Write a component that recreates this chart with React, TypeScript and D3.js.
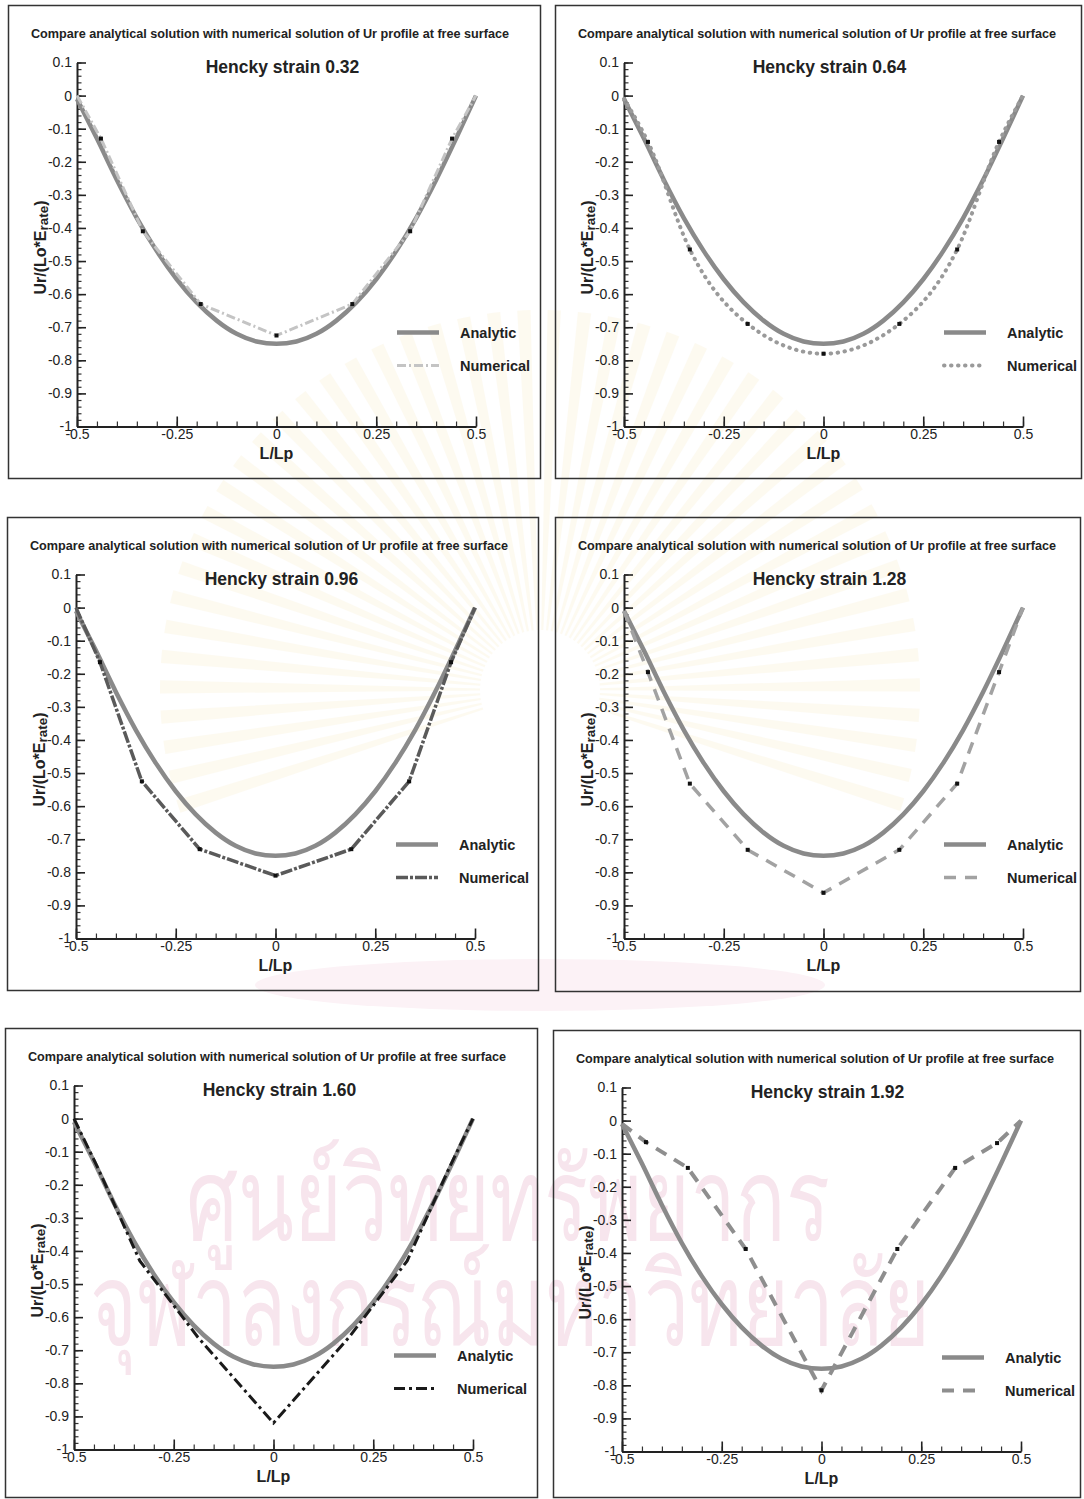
import React, { useEffect, useRef } from 'react';
import * as d3 from 'd3';

// x positions of the numerical nodes (shared by all six panels)
const numX = [-0.5, -0.44, -0.335, -0.19, 0, 0.19, 0.335, 0.44, 0.5];

// analytic profile (same curve in every panel)
const analyticX = [-0.5, -0.45, -0.4, -0.35, -0.3, -0.25, -0.2, -0.15, -0.1, -0.05, 0, 0.05, 0.1, 0.15, 0.2, 0.25, 0.3, 0.35, 0.4, 0.45, 0.5];
const analyticY = [-0.01, -0.13, -0.255, -0.37, -0.47, -0.555, -0.625, -0.68, -0.72, -0.743, -0.75, -0.743, -0.72, -0.68, -0.625, -0.555, -0.47, -0.37, -0.255, -0.13, 0];

// numerical Ur values per Hencky strain
const num032 = [0, -0.13, -0.41, -0.63, -0.725, -0.63, -0.41, -0.13, 0];
const num064 = [-0.01, -0.14, -0.465, -0.69, -0.78, -0.69, -0.465, -0.14, 0];
const num096 = [0, -0.165, -0.525, -0.73, -0.81, -0.73, -0.525, -0.165, 0];
const num128 = [-0.01, -0.195, -0.532, -0.732, -0.862, -0.732, -0.532, -0.195, 0];
const num160 = [0, -0.15, -0.43, -0.66, -0.92, -0.66, -0.43, -0.15, 0];
const num192 = [-0.01, -0.065, -0.143, -0.388, -0.815, -0.388, -0.143, -0.068, 0];

const strains = ['0.32', '0.64', '0.96', '1.28', '1.60', '1.92'];
const numericals = [num032, num064, num096, num128, num160, num192];

const xTicks = [-0.5, -0.25, 0, 0.25, 0.5];
const yTicks = [0.1, 0, -0.1, -0.2, -0.3, -0.4, -0.5, -0.6, -0.7, -0.8, -0.9, -1];

const mainTitle = 'Compare analytical solution with numerical solution of Ur profile at free surface';

const W = 1084;
const H = 1499;
const FONT = '"Liberation Sans", Arial, Helvetica, sans-serif';

// panel frames on the page
const frames = [
  { x: 8, y: 5, w: 532, h: 473 },
  { x: 555, y: 5, w: 526, h: 473 },
  { x: 7, y: 517, w: 531, h: 473 },
  { x: 555, y: 517, w: 525, h: 474 },
  { x: 5, y: 1028, w: 532, h: 469 },
  { x: 553, y: 1030, w: 527, h: 467 },
];

// line styles of the numerical series
const numStyles = [
  { stroke: '#c4c4c4', width: 3, dash: '9,3,2,3', cap: 'butt', smooth: false, marks: true },
  { stroke: '#9a9a9a', width: 4, dash: '0.5,6.5', cap: 'round', smooth: true, marks: true },
  { stroke: '#5a5a5a', width: 3.5, dash: '12,2,3,2', cap: 'butt', smooth: false, marks: true },
  { stroke: '#a2a2a2', width: 3.5, dash: '12,9', cap: 'butt', smooth: false, marks: true },
  { stroke: '#1a1a1a', width: 3, dash: '11,4,3,4', cap: 'butt', smooth: false, marks: false },
  { stroke: '#8e8e8e', width: 4, dash: '12,9', cap: 'butt', smooth: false, marks: true },
];

export default function App() {
  const ref = useRef<SVGSVGElement | null>(null);

  useEffect(() => {
    const svg = d3.select(ref.current);
    svg.selectAll('*').remove();

    svg.append('rect').attr('width', W).attr('height', H).attr('fill', '#fff');

    // very faint emblem-like sunburst and watermark behind the charts
    const rays = svg.append('g').attr('transform', 'translate(540,690)').attr('opacity', 0.13);
    const arc = d3.arc<number>().innerRadius(60).outerRadius(380)
      .startAngle(a => a).endAngle(a => a + 0.035);
    rays.selectAll('path').data(d3.range(-1.9, 1.91, 0.08)).enter().append('path')
      .attr('d', a => arc(a) as string)
      .attr('fill', '#f3dc95');
    svg.append('ellipse').attr('cx', 540).attr('cy', 985).attr('rx', 285).attr('ry', 26)
      .attr('fill', '#fcf2f6');

    const wm = svg.append('g').attr('fill', '#f7e5ed').style('font-family', '"Noto Sans", "DejaVu Sans", sans-serif');
    wm.append('text').attr('x', 508).attr('y', 1240).attr('text-anchor', 'middle')
      .attr('font-size', 115).attr('textLength', 645).attr('lengthAdjust', 'spacingAndGlyphs')
      .text('ศูนย์วิทยทรัพยากร');
    wm.append('text').attr('x', 510).attr('y', 1345).attr('text-anchor', 'middle')
      .attr('font-size', 115).attr('textLength', 840).attr('lengthAdjust', 'spacingAndGlyphs')
      .text('จุฬาลงกรณ์มหาวิทยาลัย');

    const plotW = 399;
    const plotH = 364;

    frames.forEach((f, i) => {
      const g = svg.append('g').attr('transform', `translate(${f.x},${f.y})`).style('font-family', FONT);

      g.append('rect')
        .attr('x', 0.5).attr('y', 0.5)
        .attr('width', f.w).attr('height', f.h)
        .attr('fill', 'none').attr('stroke', '#333').attr('stroke-width', 1.5);

      g.append('text')
        .attr('x', 262).attr('y', 33)
        .attr('text-anchor', 'middle')
        .attr('font-size', 12.4).attr('font-weight', 700).attr('fill', '#222')
        .attr('textLength', 478).attr('lengthAdjust', 'spacingAndGlyphs')
        .text(mainTitle);

      const left = 69;
      const top = 57.5;
      const plot = g.append('g').attr('transform', `translate(${left},${top})`);

      const x = d3.scaleLinear().domain([-0.5, 0.5]).range([0, plotW]);
      const y = d3.scaleLinear().domain([-1, 0.1]).range([plotH, 0]);

      // minor ticks
      plot.append('g')
        .call(d3.axisLeft(y).tickValues(d3.range(-1, 0.1001, 0.02)).tickSize(-4.5).tickSizeOuter(0).tickFormat(() => ''))
        .call(a => a.select('.domain').remove())
        .call(a => a.selectAll('line').attr('stroke', '#333').attr('stroke-width', 1.2));
      plot.append('g')
        .attr('transform', `translate(0,${plotH})`)
        .call(d3.axisBottom(x).tickValues(d3.range(-0.5, 0.5001, 0.05)).tickSize(-5).tickSizeOuter(0).tickFormat(() => ''))
        .call(a => a.select('.domain').remove())
        .call(a => a.selectAll('line').attr('stroke', '#333').attr('stroke-width', 1.2));

      // major axes
      plot.append('g')
        .call(d3.axisLeft(y).tickValues(yTicks).tickSize(-9).tickSizeOuter(0).tickPadding(5)
          .tickFormat(d => String(Math.round(+d * 10) / 10)))
        .call(a => a.select('.domain').attr('stroke', '#222').attr('stroke-width', 2))
        .call(a => a.selectAll('line').attr('stroke', '#222').attr('stroke-width', 1.6))
        .call(a => a.selectAll('text').attr('font-size', 14).attr('fill', '#222').style('font-family', FONT));
      plot.append('g')
        .attr('transform', `translate(0,${plotH})`)
        .call(d3.axisBottom(x).tickValues(xTicks).tickSize(-10).tickSizeOuter(0).tickPadding(3)
          .tickFormat(d => String(d)))
        .call(a => a.select('.domain').attr('stroke', '#222').attr('stroke-width', 2))
        .call(a => a.selectAll('line').attr('stroke', '#222').attr('stroke-width', 1.6))
        .call(a => a.selectAll('text').attr('font-size', 14).attr('fill', '#222').style('font-family', FONT));

      // axis titles
      plot.append('text')
        .attr('x', plotW / 2).attr('y', plotH + 32)
        .attr('text-anchor', 'middle').attr('font-size', 16).attr('font-weight', 700).attr('fill', '#222')
        .text('L/Lp');
      const yl = plot.append('text')
        .attr('transform', `translate(${-31},${plotH / 2 + 3}) rotate(-90)`)
        .attr('text-anchor', 'middle').attr('font-size', 16).attr('font-weight', 700).attr('fill', '#222');
      yl.append('tspan').text('Ur/(Lo*E');
      yl.append('tspan').attr('font-size', 13.5).attr('dy', 2).text('rate');
      yl.append('tspan').attr('dy', -2).text(')');

      // subtitle
      plot.append('text')
        .attr('x', plotW / 2 + 6).attr('y', 10)
        .attr('text-anchor', 'middle').attr('font-size', 17.5).attr('font-weight', 700).attr('fill', '#222')
        .text(`Hencky strain ${strains[i]}`);

      const st = numStyles[i];

      // analytic
      const aLine = d3.line<number>()
        .x((_, k) => x(analyticX[k]))
        .y(d => y(d))
        .curve(d3.curveMonotoneX);
      plot.append('path')
        .attr('d', aLine(analyticY))
        .attr('fill', 'none').attr('stroke', '#8a8a8a').attr('stroke-width', 4.5)
        .attr('stroke-linejoin', 'round');

      // numerical
      const vals = numericals[i];
      const nLine = d3.line<number>()
        .x((_, k) => x(numX[k]))
        .y(d => y(d))
        .curve(st.smooth ? d3.curveMonotoneX : d3.curveLinear);
      plot.append('path')
        .attr('d', nLine(vals))
        .attr('fill', 'none').attr('stroke', st.stroke).attr('stroke-width', st.width)
        .attr('stroke-dasharray', st.dash).attr('stroke-linecap', st.cap);

      if (st.marks) {
        plot.selectAll('rect.pt')
          .data(vals.slice(1, -1))
          .enter()
          .append('rect')
          .attr('class', 'pt')
          .attr('x', (_, k) => x(numX[k + 1]) - 2)
          .attr('y', d => y(d) - 2)
          .attr('width', 4).attr('height', 4)
          .attr('fill', '#111');
      }

      // legend
      const lg = plot.append('g').attr('transform', `translate(${320},${270})`);
      lg.append('line').attr('x1', 0).attr('x2', 42).attr('y1', 0).attr('y2', 0)
        .attr('stroke', '#8a8a8a').attr('stroke-width', 4.5);
      lg.append('text').attr('x', 63).attr('y', 5).attr('font-size', 14.5).attr('font-weight', 700).attr('fill', '#222')
        .text('Analytic');
      lg.append('line').attr('x1', 0).attr('x2', 42).attr('y1', 33).attr('y2', 33)
        .attr('stroke', st.stroke).attr('stroke-width', st.width)
        .attr('stroke-dasharray', st.dash).attr('stroke-linecap', st.cap);
      lg.append('text').attr('x', 63).attr('y', 38).attr('font-size', 14.5).attr('font-weight', 700).attr('fill', '#222')
        .text('Numerical');
    });
  }, []);

  return (
    <svg
      ref={ref}
      width={W}
      height={H}
      viewBox={`0 0 ${W} ${H}`}
      style={{ position: 'absolute', left: 0, top: 0 }}
    />
  );
}
